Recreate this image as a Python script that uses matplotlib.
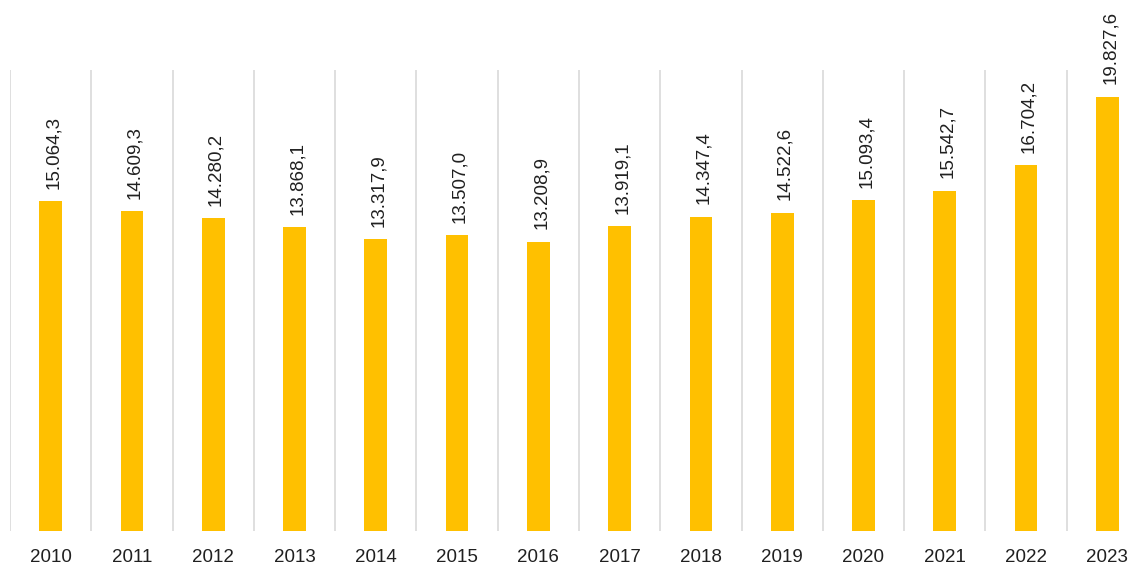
import numpy as np
import matplotlib
matplotlib.use('Agg')
import matplotlib.pyplot as plt

years = ['2010', '2011', '2012', '2013', '2014', '2015', '2016',
         '2017', '2018', '2019', '2020', '2021', '2022', '2023']
values = [15064.3, 14609.3, 14280.2, 13868.1, 13317.9, 13507.0, 13208.9,
          13919.1, 14347.4, 14522.6, 15093.4, 15542.7, 16704.2, 19827.6]
value_labels = ['15.064,3', '14.609,3', '14.280,2', '13.868,1', '13.317,9',
                '13.507,0', '13.208,9', '13.919,1', '14.347,4', '14.522,6',
                '15.093,4', '15.542,7', '16.704,2', '19.827,6']

plt.rcParams['font.family'] = ['Liberation Sans', 'DejaVu Sans']

fig = plt.figure(figsize=(11.46, 5.69), dpi=100)
ax = fig.add_axes([10/1146, 38/569, 1 - 10/1146 + 2/1146, 461/569])

x = np.arange(len(years))
ax.bar(x, values, width=0.28, color='#FFC000', zorder=3)

# category separators
for b in np.arange(len(years)) - 0.5:
    ax.axvline(b, color='#D9D9D9', linewidth=1.2, zorder=1)

for xi, v, lab in zip(x, values, value_labels):
    ax.annotate(lab, (xi, v), xytext=(2, 9), textcoords='offset points',
                rotation=90, ha='center', va='bottom', fontsize=13.5,
                color='#202020', annotation_clip=False)

ax.set_xlim(-0.5, len(years) - 0.5)
ax.set_ylim(0, 21050)
ax.set_xticks(x)
ax.set_xticklabels(years, fontsize=13.5, color='#202020')
ax.tick_params(axis='x', length=0, pad=13)
ax.set_yticks([])
for s in ax.spines.values():
    s.set_visible(False)

fig.savefig('out.png', dpi=100)
